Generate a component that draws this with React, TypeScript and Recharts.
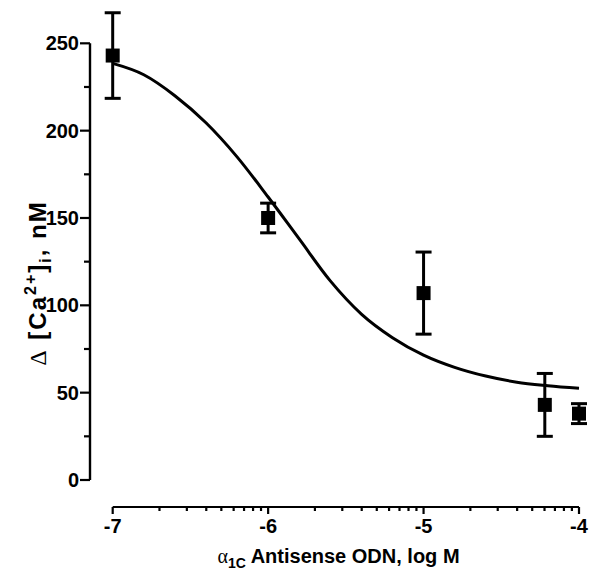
import {
  ComposedChart,
  ErrorBar,
  Label,
  Line,
  ReferenceLine,
  Scatter,
  XAxis,
  YAxis,
} from "recharts";

// measured points: log M of antisense ODN vs Δ[Ca2+]i (mean ± SEM)
const doseLog = [-7, -6, -5, -4.22, -4];
const deltaCa = [243, 150, 107, 43, 38];
const deltaCaSem = [24.5, 8.5, 23.5, 18, 5.7];

// fitted sigmoid
const fitLog = [
  -7, -6.8, -6.6, -6.4, -6.2, -6, -5.8, -5.6, -5.4, -5.2, -5, -4.8, -4.6, -4.4,
  -4.2, -4,
];
const fitCa = [
  238.5, 232, 220, 204.5, 185, 162, 138, 114, 95, 81.5, 71.5, 64.5, 59.5, 56,
  54, 52.5,
];

const xMajor = [-7, -6, -5, -4];
const xMinorMult = [2, 3, 4, 5, 6, 7, 8, 9];
const yTicks = [0, 25, 50, 75, 100, 125, 150, 175, 200, 225, 250];

const X_MIN = -7.146;
const Y_MIN = -15.46;
const Y_MAX = 274.8;

const points = doseLog.map((x, i) => ({ x, y: deltaCa[i], err: deltaCaSem[i] }));
const curve = fitLog.map((x, i) => ({ x, y: fitCa[i] }));

const xTicks: number[] = [];
xMajor.forEach((m, i) => {
  xTicks.push(m);
  if (i < xMajor.length - 1) xMinorMult.forEach((k) => xTicks.push(m + Math.log10(k)));
});

const FONT = '"Liberation Sans", Arial, sans-serif';
const isMajor = (v: number) => Math.abs(v - Math.round(v)) < 1e-6;

function XTick({ x, y, payload }: any) {
  const major = isMajor(payload.value);
  return (
    <g>
      <line x1={x} x2={x} y1={y} y2={y + (major ? 7 : 4)} stroke="#000" strokeWidth={2.2} />
      {major && (
        <text x={x} y={y + 26} textAnchor="middle" fontFamily={FONT} fontWeight="bold" fontSize={20} fill="#000">
          {Math.round(payload.value)}
        </text>
      )}
    </g>
  );
}

function YTick({ x, y, payload }: any) {
  const major = payload.value % 50 === 0;
  const len = major ? 10 : 6;
  return (
    <g>
      <line x1={x} x2={x - len} y1={y} y2={y} stroke="#000" strokeWidth={2.2} />
      {major && (
        <text x={x - len - 1} y={y + 7} textAnchor="end" fontFamily={FONT} fontWeight="bold" fontSize={20} fill="#000">
          {payload.value}
        </text>
      )}
    </g>
  );
}

function XTitle({ viewBox }: any) {
  const cx = viewBox.x + viewBox.width / 2 + 4;
  return (
    <text x={cx} y={viewBox.y + 56} textAnchor="middle" fontFamily={FONT} fontWeight="bold" fontSize={20} fill="#000">
      <tspan fontFamily='"Liberation Serif", serif' fontWeight="normal">α</tspan>
      <tspan fontSize={14} dy={5}>1C</tspan>
      <tspan dy={-5}> Antisense ODN, log M</tspan>
    </text>
  );
}

function YTitle() {
  const cx = 46;
  const cy = 283;
  return (
    <text
      x={cx}
      y={cy}
      transform={`rotate(-90 ${cx} ${cy})`}
      textAnchor="middle"
      fontFamily={FONT}
      fontWeight="bold"
      fontSize={24}
      letterSpacing={2}
      fill="#000"
    >
      <tspan fontFamily='"Liberation Serif", serif' fontWeight="normal">Δ</tspan>
      <tspan> [Ca</tspan>
      <tspan fontSize={16} dy={-10}>2+</tspan>
      <tspan dy={10}>]</tspan>
      <tspan fontSize={16} dy={5}>i</tspan>
      <tspan dy={-5}>, nM</tspan>
    </text>
  );
}

function Square({ cx, cy }: any) {
  return <rect x={cx - 7} y={cy - 7} width={14} height={14} fill="#000" />;
}

export default function App() {
  return (
    <div style={{ position: "absolute", left: 0, top: 0, width: 598, height: 570, background: "#fff" }}>
      <ComposedChart width={598} height={570} margin={{ top: 0, right: 19, bottom: 0, left: 0 }}>
        <XAxis
          type="number"
          dataKey="x"
          domain={[X_MIN, -4]}
          ticks={xTicks}
          interval={0}
          axisLine={false}
          tickLine={false}
          tickSize={0}
          tickMargin={0}
          height={63}
          tick={<XTick />}
        >
          <Label content={<XTitle />} />
        </XAxis>
        <YAxis
          type="number"
          dataKey="y"
          domain={[Y_MIN, Y_MAX]}
          ticks={yTicks}
          interval={0}
          axisLine={false}
          tickLine={false}
          tickSize={0}
          tickMargin={0}
          width={90}
          tick={<YTick />}
        >
          <Label content={<YTitle />} />
        </YAxis>
        <ReferenceLine
          segment={[{ x: X_MIN, y: 0 }, { x: X_MIN, y: 250 }]}
          stroke="#000"
          strokeWidth={2.4}
          ifOverflow="visible"
        />
        <ReferenceLine
          segment={[{ x: -7, y: Y_MIN }, { x: -4, y: Y_MIN }]}
          stroke="#000"
          strokeWidth={2.2}
          ifOverflow="visible"
        />
        <Line
          data={curve}
          dataKey="y"
          type="monotone"
          dot={false}
          stroke="#000"
          strokeWidth={3}
          isAnimationActive={false}
        />
        <Scatter data={points} dataKey="y" shape={<Square />} isAnimationActive={false}>
          <ErrorBar dataKey="err" direction="y" width={8} strokeWidth={3} stroke="#000" />
        </Scatter>
      </ComposedChart>
    </div>
  );
}
